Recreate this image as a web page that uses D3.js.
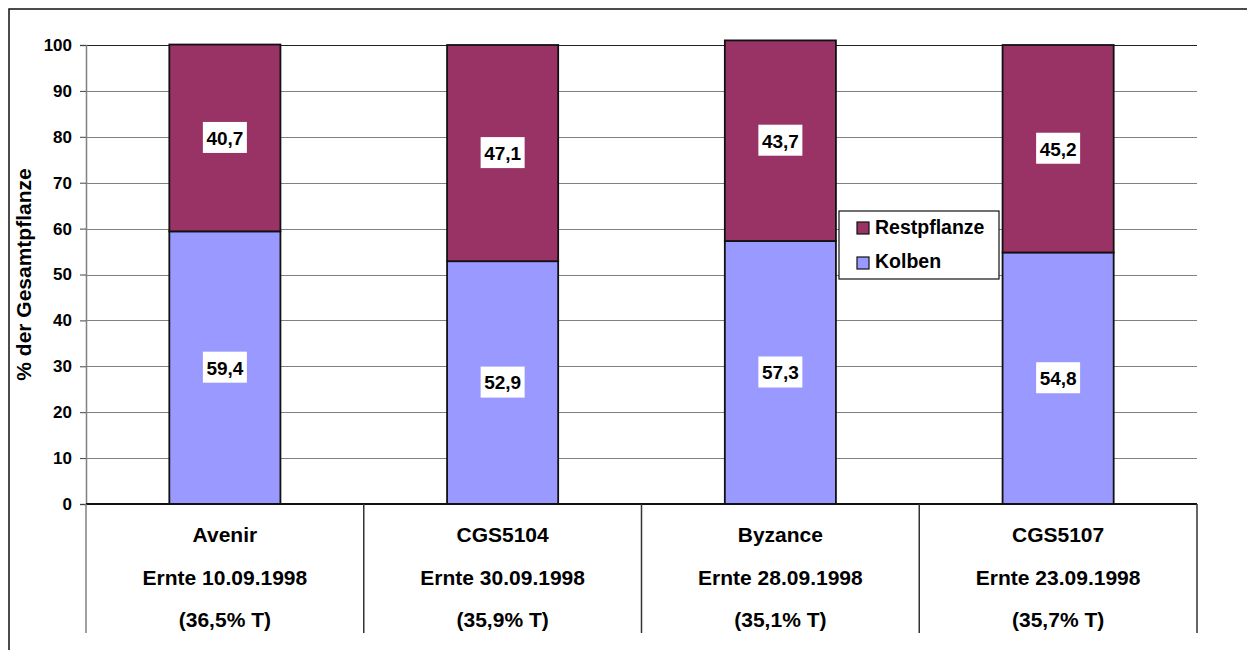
<!DOCTYPE html>
<html>
<head>
<meta charset="utf-8">
<script src="https://cdn.jsdelivr.net/npm/d3@7"></script>
<style>
  body { margin: 0; background: #fff; }
  svg text { font-family: "Liberation Sans", Arial, sans-serif; font-weight: bold; fill: #000; }
</style>
</head>
<body>
<div id="chart"></div>
<script>
const varieties = ["Avenir", "CGS5104", "Byzance", "CGS5107"];
const harvestDates = ["Ernte 10.09.1998", "Ernte 30.09.1998", "Ernte 28.09.1998", "Ernte 23.09.1998"];
const dryMatter = ["(36,5% T)", "(35,9% T)", "(35,1% T)", "(35,7% T)"];
const kolben = [59.4, 52.9, 57.3, 54.8];
const restpflanze = [40.7, 47.1, 43.7, 45.2];
const yTicks = [0, 10, 20, 30, 40, 50, 60, 70, 80, 90, 100];

const width = 1247, height = 650;
const margins = { top: 45, right: 50, bottom: 146, left: 86 };
const colors = { Kolben: "#9999ff", Restpflanze: "#993366" };
const fmt = v => v.toFixed(1).replace(".", ",");

const svg = d3.select("#chart").append("svg")
  .attr("width", width)
  .attr("height", height);

// outer chart frame (runs off the right and bottom edge)
svg.append("rect")
  .attr("x", 9).attr("y", 9)
  .attr("width", width + 10).attr("height", height + 10)
  .attr("fill", "none")
  .attr("stroke", "#111")
  .attr("stroke-width", 1.5);

const x = d3.scaleBand()
  .domain(varieties)
  .range([margins.left, width - margins.right])
  .padding(0);

const y = d3.scaleLinear()
  .domain([0, 100])
  .range([height - margins.bottom, margins.top]);

const barW = x.bandwidth() * 0.4;

// gridlines
svg.append("g")
  .selectAll("line")
  .data(yTicks.filter(t => t > 0))
  .enter()
  .append("line")
  .attr("x1", margins.left)
  .attr("x2", width - margins.right)
  .attr("y1", d => Math.round(y(d)) + 0.5)
  .attr("y2", d => Math.round(y(d)) + 0.5)
  .attr("stroke", d => d === 100 ? "#222" : "#808080")
  .attr("stroke-width", 1.2);

// y axis
const yAxis = svg.append("g")
  .attr("transform", `translate(${margins.left},0)`)
  .call(d3.axisLeft(y).tickValues(yTicks).tickSize(6).tickPadding(8));
yAxis.select(".domain").attr("stroke", "#808080").attr("stroke-width", 1.5);
yAxis.selectAll(".tick line").attr("stroke", "#444");
yAxis.selectAll(".tick text")
  .style("font-size", "17px")
  .style("font-family", "'Liberation Sans', Arial, sans-serif")
  .style("font-weight", "bold")
  .attr("fill", "#000");

svg.append("text")
  .attr("transform", `translate(31, ${(margins.top + height - margins.bottom) / 2}) rotate(-90)`)
  .attr("text-anchor", "middle")
  .style("font-size", "21px")
  .text("% der Gesamtpflanze");

// stacked bars
const rows = varieties.map((v, i) => ({ name: v, Kolben: kolben[i], Restpflanze: restpflanze[i] }));
const stack = d3.stack().keys(["Kolben", "Restpflanze"])(rows);

const layers = svg.append("g")
  .selectAll("g")
  .data(stack)
  .enter()
  .append("g")
  .attr("fill", d => colors[d.key]);

layers.selectAll("rect")
  .data(d => d)
  .enter()
  .append("rect")
  .attr("x", d => x(d.data.name) + (x.bandwidth() - barW) / 2)
  .attr("width", barW)
  .attr("y", d => y(d[1]))
  .attr("height", d => y(d[0]) - y(d[1]))
  .attr("stroke", "#111")
  .attr("stroke-width", 1.8);

// value labels in white boxes
stack.forEach(layer => {
  layer.forEach(d => {
    const cx = x(d.data.name) + x.bandwidth() / 2;
    const cy = (y(d[0]) + y(d[1])) / 2;
    const g = svg.append("g").attr("transform", `translate(${cx}, ${cy})`);
    g.append("rect")
      .attr("x", -22).attr("y", -16)
      .attr("width", 44).attr("height", 31)
      .attr("fill", "#fff");
    g.append("text")
      .attr("text-anchor", "middle")
      .attr("dy", "0.36em")
      .style("font-size", "19px")
      .text(fmt(d.data[layer.key]));
  });
});

// x axis baseline
svg.append("line")
  .attr("x1", margins.left).attr("x2", width - margins.right)
  .attr("y1", y(0)).attr("y2", y(0))
  .attr("stroke", "#111").attr("stroke-width", 2);

// category separators
const bounds = varieties.map(v => x(v)).concat([width - margins.right]);
svg.append("g")
  .selectAll("line")
  .data(bounds)
  .enter()
  .append("line")
  .attr("x1", d => d).attr("x2", d => d)
  .attr("y1", y(0)).attr("y2", 633)
  .attr("stroke", (d, i) => i === 0 ? "#808080" : "#333")
  .attr("stroke-width", 1.5);

// category labels
const catLines = [varieties, harvestDates, dryMatter];
const lineY = [542, 585, 627];
catLines.forEach((arr, li) => {
  svg.append("g")
    .selectAll("text")
    .data(arr)
    .enter()
    .append("text")
    .attr("x", (d, i) => x(varieties[i]) + x.bandwidth() / 2)
    .attr("y", lineY[li])
    .attr("text-anchor", "middle")
    .style("font-size", "21px")
    .text(d => d);
});

// legend
const legend = svg.append("g").attr("transform", "translate(839, 211)");
legend.append("rect")
  .attr("width", 160).attr("height", 68)
  .attr("fill", "#fff")
  .attr("stroke", "#111")
  .attr("stroke-width", 1.2);
["Restpflanze", "Kolben"].forEach((k, i) => {
  legend.append("rect")
    .attr("x", 18).attr("y", 11 + i * 35)
    .attr("width", 12).attr("height", 12)
    .attr("fill", colors[k])
    .attr("stroke", "#111")
    .attr("stroke-width", 1.2);
  legend.append("text")
    .attr("x", 36).attr("y", 23 + i * 34)
    .style("font-size", "19.5px")
    .text(k);
});
</script>
</body>
</html>
